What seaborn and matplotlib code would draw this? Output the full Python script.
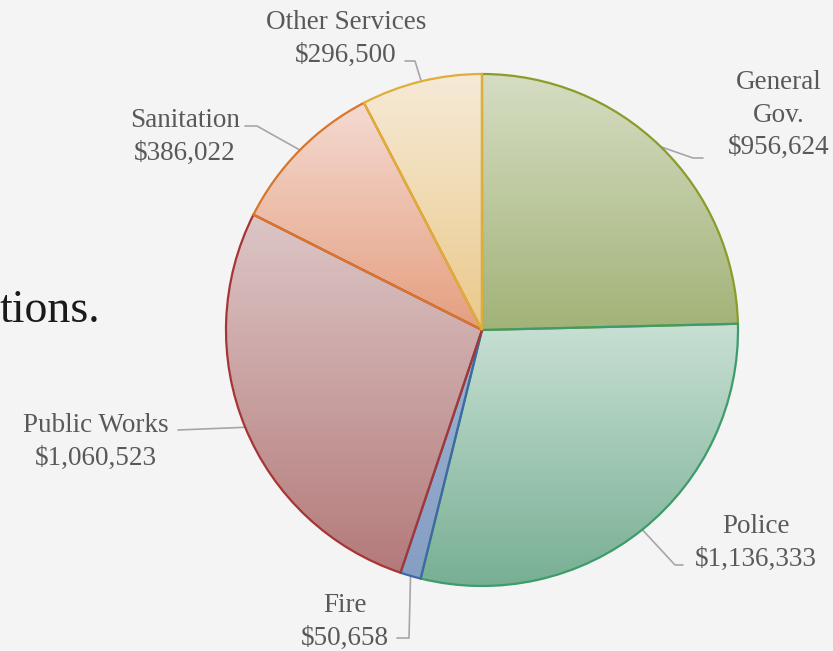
import matplotlib
matplotlib.use("Agg")
import matplotlib.pyplot as plt
import numpy as np
import seaborn as sns
from matplotlib.colors import to_rgba

# 데이터
categories = ["General Gov.", "Police", "Fire", "Public Works", "Sanitation", "Other Services"]
values = [956624, 1136333, 50658, 1060523, 386022, 296500]
label_lines = [["General", "Gov.", "$956,624"],
               ["Police", "$1,136,333"],
               ["Fire", "$50,658"],
               ["Public Works", "$1,060,523"],
               ["Sanitation", "$386,022"],
               ["Other Services", "$296,500"]]

# 색상 (위쪽 밝은 색, 아래쪽 진한 색, 테두리)
top_colors = ["#d6ddc3", "#c8e0d4", "#9fb3d0", "#ddc6c6", "#f4dad2", "#f6ead7"]
bottom_colors = ["#a2b378", "#78af93", "#859ec3", "#b47a7a", "#e59f7f", "#eac98a"]
edge_colors = ["#8a9c2a", "#3d9b6c", "#3e69a5", "#a83535", "#d8772c", "#e0ad38"]

# 레이아웃 (픽셀 좌표, y는 위에서부터)
W, H = 833, 651
cx, cy, R = 482, 330, 256
text_pos = [(779, 89), (756, 533), (345, 612), (96, 432), (185, 127), (346, 29)]
line_step = 32.5
leader_mid = [(693, 158), (675, 565), (409, 638), None, (257, 126), (415, 61)]
leader_end = [(703, 158), (683, 565), (397, 638), (178, 430), (245, 126), (405, 61)]

sns.set_style("white")
plt.rcParams["font.family"] = ["Liberation Serif", "DejaVu Serif"]

fig = plt.figure(figsize=(W / 100, H / 100), dpi=100)
fig.patch.set_facecolor("#f4f4f4")
ax = fig.add_axes([0, 0, 1, 1])
ax.set_facecolor("#f4f4f4")

wedges, _ = ax.pie(values, radius=R, center=(cx, H - cy), startangle=90,
                   counterclock=False, frame=True)

for i, w in enumerate(wedges):
    w.set_facecolor("none")
    w.set_edgecolor(edge_colors[i])
    w.set_linewidth(1.6)
    w.set_zorder(3 + i)
    # 세로 그라데이션 채우기
    ext = w.get_path().get_extents()
    grad = sns.blend_palette([top_colors[i], bottom_colors[i]], n_colors=256)
    arr = np.array([to_rgba(c) for c in grad]).reshape(256, 1, 4)
    im = ax.imshow(arr, extent=(ext.x0, ext.x1, ext.y0, ext.y1), origin="upper",
                   aspect="auto", interpolation="bilinear", zorder=1)
    im.set_clip_path(w)

    # 지시선
    mid = np.deg2rad((w.theta1 + w.theta2) / 2)
    sx, sy = cx + R * np.cos(mid), cy - R * np.sin(mid)
    pts = [(sx, sy)]
    if leader_mid[i] is not None:
        pts.append(leader_mid[i])
    pts.append(leader_end[i])
    xs = [p[0] for p in pts]
    ys = [H - p[1] for p in pts]
    ax.plot(xs, ys, color="#a6a6a6", lw=1.2, zorder=2)

    # 라벨
    tx, ty = text_pos[i]
    for k, line in enumerate(label_lines[i]):
        ax.text(tx, H - (ty + k * line_step), line, ha="center", va="baseline",
                fontsize=19.5, color="#595959", zorder=10)

ax.text(0, H - 322, "tions.", ha="left", va="baseline", fontsize=33,
        color="#1a1a1a", zorder=10)

ax.set_xlim(0, W)
ax.set_ylim(0, H)
ax.set_aspect("auto")
ax.axis("off")

fig.savefig("out.png", dpi=100, facecolor=fig.get_facecolor())
